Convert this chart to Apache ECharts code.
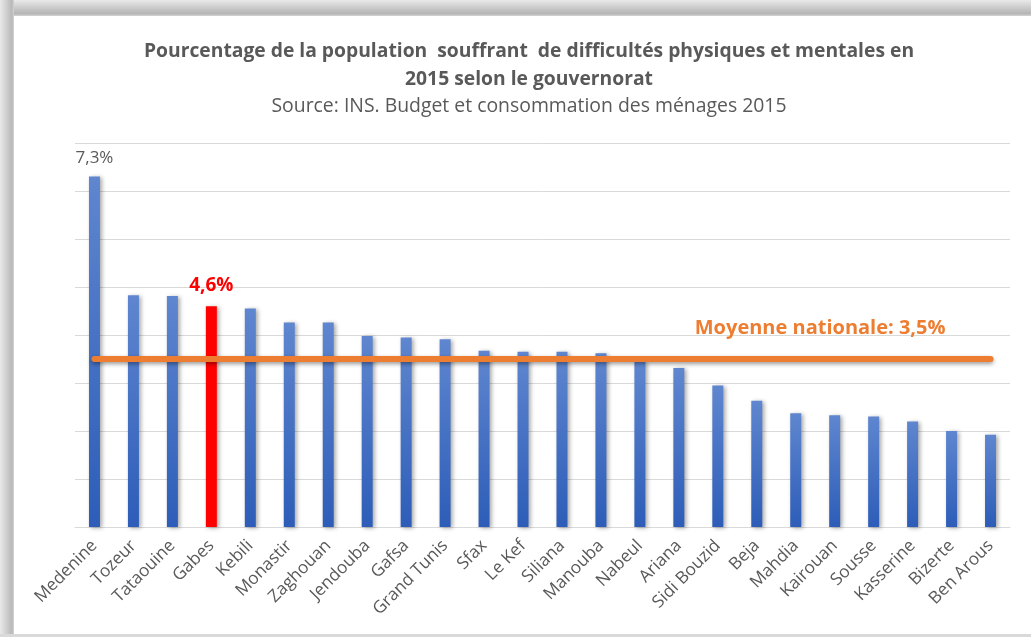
<!DOCTYPE html>
<html>
<head>
<meta charset="utf-8">
<script src="https://cdn.jsdelivr.net/npm/echarts@6/dist/echarts.min.js"></script>
<style>
html,body{margin:0;padding:0;background:#fff;}
#c{width:1031px;height:637px;}
</style>
</head>
<body>
<div id="c"></div>
<script>
const categories = ["Medenine","Tozeur","Tataouine","Gabes","Kebili","Monastir","Zaghouan","Jendouba","Gafsa","Grand Tunis","Sfax","Le Kef","Siliana","Manouba","Nabeul","Ariana","Sidi Bouzid","Beja","Mahdia","Kairouan","Sousse","Kasserine","Bizerte","Ben Arous"];
const values = [7.3,4.83,4.81,4.6,4.55,4.26,4.26,3.98,3.95,3.91,3.67,3.65,3.65,3.62,3.46,3.31,2.95,2.63,2.37,2.33,2.30,2.20,2.00,1.92];
const nationalAverage = 3.5;
const highlighted = "Gabes";
const labelled = ["Medenine","Gabes"];
const titleText = "Pourcentage de la population  souffrant  de difficultés physiques et mentales en\n2015 selon le gouvernorat";
const subText = "Source: INS. Budget et consommation des ménages 2015";
const avgLabel = "Moyenne nationale: 3,5%";

const fmt = v => v.toFixed(1).replace('.', ',') + '%';
const blueGrad = new echarts.graphic.LinearGradient(0,0,0,1,[{offset:0,color:'#5f86cf'},{offset:1,color:'#2d5db8'}]);

const barData = categories.map((c,i) => {
  const d = {value: values[i]};
  if (c === highlighted) {
    d.itemStyle = {color:'#ff0000'};
    d.label = {show:true, formatter: () => fmt(values[i]), color:'#ff0000', fontWeight:'bold', fontSize:19, distance:11};
  } else if (labelled.includes(c)) {
    d.label = {show:true, formatter: () => fmt(values[i]), color:'#595959', fontSize:17, distance:10};
  }
  return d;
});

const chart = echarts.init(document.getElementById('c'), null, {renderer:'canvas'});
chart.setOption({
  animation:false,
  backgroundColor:'#ffffff',
  title:{
    text:titleText,
    subtext:subText,
    left:524,
    textAlign:'center',
    top:33,
    itemGap:0,
    textStyle:{fontFamily:'Open Sans',fontWeight:'bold',fontSize:19.3,color:'#595959',lineHeight:28},
    subtextStyle:{fontFamily:'Open Sans',fontSize:19.4,color:'#595959',lineHeight:24}
  },
  graphic:[
    {type:'rect',z:-1,shape:{x:0,y:0,width:1031,height:16},style:{fill:new echarts.graphic.LinearGradient(0,0,0,1,[{offset:0,color:'#e9e9e9'},{offset:0.5,color:'#cacaca'},{offset:0.85,color:'#b5b5b5'},{offset:1,color:'#d4d4d4'}])}},
    {type:'rect',z:-1,shape:{x:0,y:0,width:14,height:637},style:{fill:new echarts.graphic.LinearGradient(0,0,1,0,[{offset:0,color:'#e9e9e9'},{offset:0.5,color:'#cdcdcd'},{offset:0.85,color:'#b8b8b8'},{offset:1,color:'#d4d4d4'}])}},
    {type:'rect',z:-1,shape:{x:0,y:634,width:1031,height:3},style:{fill:'#d9d9d9'}}
  ],
  grid:{left:75,right:21,top:143,bottom:110,containLabel:false},
  xAxis:{
    type:'category',
    data:categories,
    axisLine:{show:true,lineStyle:{color:'#d9d9d9',width:1}},
    axisTick:{show:false},
    axisLabel:{rotate:45,interval:0,color:'#595959',fontSize:17.2,fontFamily:'Open Sans',margin:16}
  },
  yAxis:{
    type:'value',min:0,max:8,interval:1,
    axisLabel:{show:false},
    axisLine:{show:false},
    axisTick:{show:false},
    splitLine:{lineStyle:{color:'#d9d9d9',width:1}}
  },
  series:[{
    type:'bar',
    data:barData,
    barWidth:11,
    itemStyle:{color:blueGrad,shadowColor:'rgba(0,0,0,0.35)',shadowBlur:4,shadowOffsetX:2,shadowOffsetY:1},
    label:{show:false,position:'top',fontFamily:'Open Sans'},
    markLine:{
      silent:true,
      symbol:['none','none'],
      lineStyle:{color:'#ed7d31',width:6,type:'solid',cap:'round',shadowColor:'rgba(0,0,0,0.4)',shadowBlur:4,shadowOffsetY:2},
      label:{show:true,position:'insideEndTop',formatter:avgLabel,color:'#ed7d31',fontWeight:'bold',fontSize:20,fontFamily:'Open Sans',distance:[45,21]},
      data:[[{coord:[categories[0],nationalAverage]},{coord:[categories[categories.length-1],nationalAverage]}]]
    }
  }]
});
</script>
</body>
</html>
